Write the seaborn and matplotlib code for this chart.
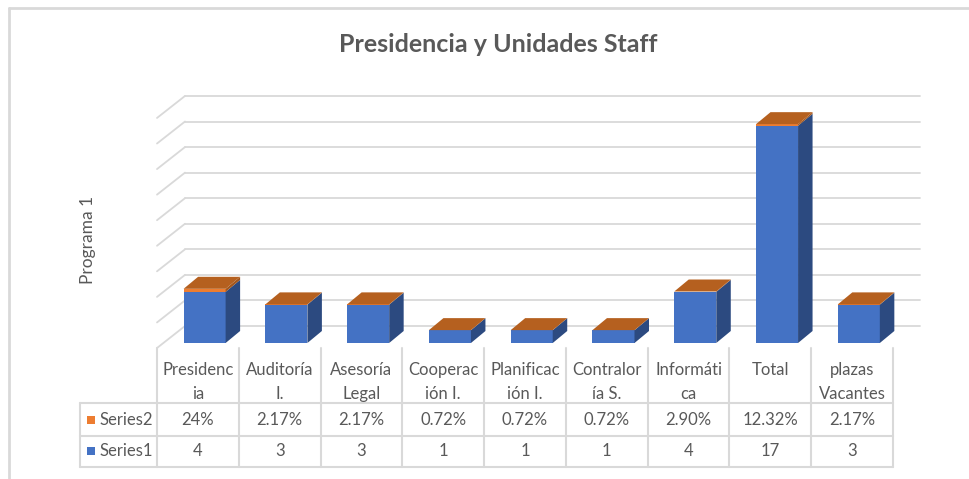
import matplotlib
matplotlib.use("Agg")
import matplotlib.pyplot as plt
from matplotlib.patches import Polygon, Rectangle
from matplotlib.lines import Line2D
import seaborn as sns
import numpy as np

# Data
categories = ["Presidencia", "Auditoría I.", "Asesoría Legal", "Cooperación I.",
              "Planificación I.", "Contraloría S.", "Informática", "Total", "plazas Vacantes"]
header_labels = ["Presidenc\nia", "Auditoría\nI.", "Asesoría\nLegal", "Cooperac\nión I.",
                 "Planificac\nión I.", "Contralor\nía S.", "Informáti\nca", "Total", "plazas\nVacantes"]
series1 = [4, 3, 3, 1, 1, 1, 4, 17, 3]
series2 = [0.24, 0.0217, 0.0217, 0.0072, 0.0072, 0.0072, 0.029, 0.1232, 0.0217]
series_names = ["Series2", "Series1"]

totals = [a + b for a, b in zip(series1, series2)]

def pct(v):
    s = f"{v * 100:.2f}"
    if s.endswith(".00"):
        s = s[:-3]
    return s + "%"

# Colors
blue = "#4472C4"
blue_side = "#2C4A80"
orange = "#ED7D31"
orange_top = "#B5601F"
orange_side = "#A3561C"
grid_c = "#D9D9D9"
text_c = "#595959"

sns.set_style("white")
plt.rcParams['font.family'] = ['Lato', 'DejaVu Sans']

W, H = 969, 479
fig = plt.figure(figsize=(W / 100, H / 100), dpi=100)

# main plot area (front plane of bars)
ax_l, ax_r, base, top = 157, 893, 343, 80
px_per_unit = 12.78
ymax = (base - top) / px_per_unit
ax = fig.add_axes([ax_l / W, 1 - base / H, (ax_r - ax_l) / W, (base - top) / H])

bar_w = 0.514
sns.barplot(x=categories, y=totals, color=orange, width=bar_w, saturation=1,
            errorbar=None, linewidth=0, ax=ax, zorder=3)
sns.barplot(x=categories, y=series1, color=blue, width=bar_w, saturation=1,
            errorbar=None, linewidth=0, ax=ax, zorder=3)

shift = 0.082
ax.set_xlim(-0.5 - shift, len(categories) - 0.5 - shift)
ax.set_ylim(0, ymax)
ax.set_axis_off()

x0l, x1l = ax.get_xlim()
ux = (x1l - x0l) / (ax_r - ax_l)
uy = ymax / (base - top)

# walls (grid lines), drawn in perspective
for v in np.arange(0, 20, 2):
    ax.plot([x0l + 28 * ux, x1l + 27 * ux], [v + 17 * uy] * 2, color=grid_c, lw=1.3,
            clip_on=False, zorder=0)
    ax.plot([x0l, x0l + 28 * ux], [v - 5 * uy, v + 17 * uy], color=grid_c, lw=1.3,
            clip_on=False, zorder=0)

# 3D faces of the bars
dx, dy = 14.5 * ux, 12 * uy
blue_bars = ax.patches[len(categories):]
for p, s1, tot in zip(blue_bars, series1, totals):
    x0 = p.get_x()
    x1 = x0 + p.get_width()
    faces = [
        ([(x1, 0), (x1 + dx, dy), (x1 + dx, s1 + dy), (x1, s1)], blue_side),
        ([(x1, s1), (x1 + dx, s1 + dy), (x1 + dx, tot + dy), (x1, tot)], orange_side),
        ([(x0, tot), (x1, tot), (x1 + dx, tot + dy), (x0 + dx, tot + dy)], orange_top),
    ]
    for verts, c in faces:
        ax.add_patch(Polygon(verts, closed=True, facecolor=c, edgecolor="none",
                             clip_on=False, zorder=4))

# data table below the plot
t_l, t_top, t_bot = 80, 345, 467
col_w = (ax_r - ax_l) / len(categories)
tax = fig.add_axes([t_l / W, 1 - t_bot / H, (ax_r - t_l) / W, (t_bot - t_top) / H])
tax.set_xlim(-(ax_l - t_l) / col_w, len(categories))
tax.set_ylim(t_bot, t_top)
tax.set_axis_off()
lx = -(ax_l - t_l) / col_w
row_lines = [403, 436, 467]
for y in row_lines:
    tax.plot([lx, len(categories)], [y, y], color=grid_c, lw=1.5, clip_on=False)
tax.plot([lx, lx], [403, 467], color=grid_c, lw=1.5, clip_on=False)
for j in range(len(categories) + 1):
    tax.plot([j, j], [348, 467], color=grid_c, lw=1.5, clip_on=False)

fs = 12
for j, lab in enumerate(header_labels):
    for k, line in enumerate(lab.split("\n")):
        tax.text(j + 0.5, 370 + 24 * k, line, ha="center", va="center",
                 fontsize=fs, color=text_c)
rows = [[pct(v) for v in series2], [str(v) for v in series1]]
row_y = [420, 451]
for name, c, vals, y in zip(series_names, [orange, blue], rows, row_y):
    tax.add_patch(Rectangle((lx + 7 / col_w, y + 4), 8 / col_w, -8, facecolor=c,
                            edgecolor="none", clip_on=False))
    tax.text(lx + 20 / col_w, y, name, ha="left", va="center", fontsize=fs, color=text_c)
    for j, s in enumerate(vals):
        tax.text(j + 0.5, y, s, ha="center", va="center", fontsize=fs, color=text_c)

# title and axis title
fig.text(498 / W, 1 - 44 / H, "Presidencia y Unidades Staff", ha="center", va="center",
         fontsize=18, fontweight="bold", color=text_c)
fig.text(88 / W, 1 - 240 / H, "Programa 1", rotation=90, ha="center", va="center",
         fontsize=12.5, color=text_c)

# chart frame
fig.add_artist(Line2D([8.5 / W, 8.5 / W], [0, 1 - 7.5 / H], transform=fig.transFigure,
                      color=grid_c, lw=2))
fig.add_artist(Line2D([8.5 / W, 1], [1 - 7.5 / H, 1 - 7.5 / H], transform=fig.transFigure,
                      color=grid_c, lw=2))

fig.savefig("out.png", dpi=100, facecolor="white")
